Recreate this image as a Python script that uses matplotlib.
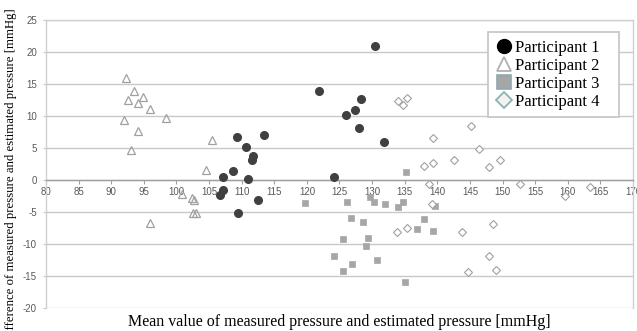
import matplotlib
matplotlib.use("Agg")
import matplotlib.pyplot as plt
from matplotlib.lines import Line2D

# Participant 1 (black circles)
p1_x = [109.3, 113.4, 110.6, 111.8, 111.6, 121.8, 107.2, 108.6, 110.9, 107.2, 106.7,
        112.5, 109.4, 130.4, 128.3, 127.4, 126.0, 128.0, 131.9, 124.1]
p1_y = [6.75, 7.0, 5.2, 3.7, 3.05, 13.9, 0.45, 1.4, 0.1, -1.6, -2.4,
        -3.05, -5.1, 20.9, 12.7, 10.9, 10.1, 8.15, 5.9, 0.5]

# Participant 2 (open triangles)
p2_x = [92.3, 93.5, 92.5, 94.1, 94.9, 95.9, 92.0, 98.4, 94.1, 93.1, 105.4, 104.5,
        100.9, 102.4, 102.7, 102.6, 103.0, 95.9]
p2_y = [16.0, 13.9, 12.5, 12.1, 12.9, 11.1, 9.45, 9.7, 7.6, 4.7, 6.3, 1.5,
        -2.2, -2.8, -3.2, -5.1, -5.2, -6.7]

# Participant 3 (grey squares)
p3_x = [135.2, 119.7, 126.1, 129.7, 130.3, 132.0, 134.8, 133.9, 126.7, 128.6, 125.5,
        129.3, 129.0, 124.1, 130.8, 126.9, 125.5, 135.1, 139.6, 138.0, 136.9, 139.3]
p3_y = [1.2, -3.6, -3.4, -2.7, -3.5, -3.7, -3.5, -4.25, -6.0, -6.5, -9.25,
        -9.0, -10.3, -11.8, -12.5, -13.2, -14.25, -15.9, -4.1, -6.1, -7.7, -8.0]

# Participant 4 (open diamonds)
p4_x = [134.0, 134.8, 135.3, 145.1, 139.3, 146.4, 142.5, 149.6, 139.3, 137.9, 147.9,
        138.7, 152.6, 163.4, 159.6, 139.2, 133.8, 135.3, 143.8, 148.5, 148.0, 149.0, 144.7]
p4_y = [12.4, 11.75, 12.8, 8.4, 6.6, 4.9, 3.2, 3.2, 2.7, 2.2, 2.0,
        -0.55, -0.6, -1.1, -2.5, -3.8, -8.2, -7.5, -8.2, -6.85, -11.85, -14.0, -14.45]

labels = ["Participant 1", "Participant 2", "Participant 3", "Participant 4"]
x_ticks = list(range(80, 171, 5))
y_ticks = list(range(-20, 26, 5))

fig = plt.figure(figsize=(6.37, 3.31), dpi=100)
ax = fig.add_axes([0.0722, 0.0695, 0.9215, 0.8701])

grid_c = "#c8c8c8"
for yv in y_ticks:
    ax.axhline(yv, color=grid_c, lw=1.0, zorder=0)

ax.plot(p2_x, p2_y, ls="none", marker="^", ms=5.5, mfc="none", mec="#a0a0a0", mew=0.9, zorder=3)
ax.plot(p3_x, p3_y, ls="none", marker="s", ms=5.0, mfc="#a6a6a6", mec="#a6a6a6", mew=0.5, zorder=3)
ax.plot(p4_x, p4_y, ls="none", marker="D", ms=3.6, mfc="white", mec="#a0a0a0", mew=0.8, zorder=3)
ax.plot(p1_x, p1_y, ls="none", marker="o", ms=5.5, mfc="#404040", mec="#404040", zorder=4)

ax.set_xlim(80, 170)
ax.set_ylim(-20, 25)
ax.set_xticks(x_ticks)
ax.set_xticklabels([str(v) for v in x_ticks])
ax.set_yticks(y_ticks)
ax.set_yticklabels([str(v) for v in y_ticks])

for s in ["left", "right", "top"]:
    ax.spines[s].set_color("#d0d0d0")
    ax.spines[s].set_linewidth(1.0)
ax.spines["bottom"].set_position(("data", 0))
ax.spines["bottom"].set_color("#a0a0a0")
ax.spines["bottom"].set_linewidth(1.0)

ax.tick_params(axis="x", direction="out", length=3, width=0.8, color="#a0a0a0",
               labelsize=7, labelcolor="#595959", pad=2)
ax.tick_params(axis="y", direction="out", length=2.5, width=0.8, color="#c8c8c8",
               labelsize=7, labelcolor="#595959", pad=4)
for t in ax.get_xticklabels() + ax.get_yticklabels():
    t.set_fontfamily("Liberation Sans")

serif = "Liberation Serif"
fig.text(0.5325, 0.028, "Mean value of measured pressure and estimated pressure [mmHg]",
         ha="center", va="center", fontsize=11.5, family=serif)
fig.text(0.018, 0.47, "Difference of measured pressure and estimated pressure [mmHg]",
         ha="center", va="center", rotation=90, fontsize=9.15, family=serif)

handles = [
    Line2D([], [], ls="none", marker="o", ms=10, mfc="black", mec="black"),
    Line2D([], [], ls="none", marker="^", ms=10.5, mfc="white", mec="#b0b0b0", mew=1.3),
    Line2D([], [], ls="none", marker="s", ms=10, mfc="#a6a6a6", mec="#8fa9b0", mew=1.2),
    Line2D([], [], ls="none", marker="D", ms=8, mfc="#f2f2f2", mec="#8fb0b0", mew=1.3),
]
leg = ax.legend(handles, labels, loc="upper left", bbox_to_anchor=(0.753, 0.5, 0.2234, 0.458),
                mode="expand",
                prop={"family": serif, "size": 12}, frameon=True, fancybox=False,
                edgecolor="#c8c8c8", framealpha=1, handlelength=1.0, handletextpad=0.2,
                labelspacing=0.12, borderpad=0.45, borderaxespad=0)
leg.get_frame().set_linewidth(1.3)

fig.savefig("out.png", dpi=100)
